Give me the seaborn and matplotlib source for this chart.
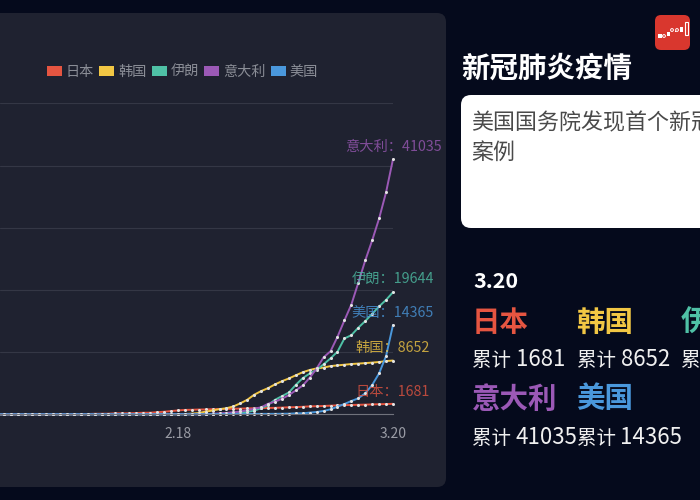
import pandas as pd
import matplotlib
matplotlib.use("Agg")
import matplotlib.pyplot as plt
from matplotlib.patches import Circle, FancyBboxPatch, Patch, Rectangle
import seaborn as sns

# daily totals, 1.23 to 3.20
dates = [f"1.{d}" for d in range(23, 32)] + [f"2.{d}" for d in range(1, 30)] + [f"3.{d}" for d in range(1, 21)]
japan = [1, 2, 2, 4, 4, 7, 7, 11, 15,
         20, 20, 20, 22, 45, 86, 90, 96, 161, 161, 163, 203, 251, 259, 338, 414, 520, 616, 705, 731, 769, 777, 826, 850, 857, 891, 919, 947, 977,
         1001, 1023, 1040, 1083, 1125, 1160, 1210, 1275, 1305, 1340, 1390, 1440, 1480, 1500, 1530, 1560, 1590, 1620, 1650, 1681]
korea = [1, 2, 2, 3, 4, 4, 4, 4, 11,
         12, 15, 15, 16, 19, 23, 24, 24, 25, 27, 28, 28, 28, 28, 28, 29, 30, 31, 51, 104, 204, 433, 602, 833, 977, 1261, 1766, 2337, 3150,
         3736, 4212, 4812, 5328, 5766, 6284, 6767, 7134, 7382, 7513, 7755, 7869, 7979, 8086, 8162, 8236, 8320, 8413, 8565, 8652]
iran = [0, 0, 0, 0, 0, 0, 0, 0, 0,
        0, 0, 0, 0, 0, 0, 0, 0, 0, 0, 0, 0, 0, 0, 0, 0, 0, 0, 2, 5, 18, 28, 43, 61, 95, 139, 245, 388, 593,
        978, 1501, 2336, 2922, 3513, 4747, 5823, 6566, 7161, 8042, 9000, 10075, 12200, 12729, 13938, 14991, 16169, 17361, 18407, 19644]
italy = [0, 0, 0, 0, 0, 0, 0, 0, 2,
         2, 2, 2, 2, 2, 2, 3, 3, 3, 3, 3, 3, 3, 3, 3, 3, 3, 3, 3, 3, 3, 20, 79, 155, 229, 322, 453, 655, 888,
         1128, 1694, 2036, 2502, 3089, 3858, 4636, 5883, 7375, 9172, 10149, 12462, 15113, 17660, 21157, 24747, 27980, 31506, 35713, 41035]
usa = [1, 1, 2, 2, 5, 5, 5, 5, 6,
       7, 8, 8, 11, 11, 11, 11, 11, 11, 12, 12, 13, 13, 14, 15, 15, 15, 15, 15, 15, 15, 15, 35, 35, 53, 53, 57, 60, 66,
       68, 70, 75, 85, 100, 150, 160, 270, 375, 540, 800, 1230, 1660, 2140, 2570, 3380, 4720, 6590, 9380, 14365]

countries = ["日本", "韩国", "伊朗", "意大利", "美国"]
colors = ["#e55541", "#f2c744", "#4fc1a6", "#9b59b6", "#4a98dc"]
series = [japan, korea, iran, italy, usa]
tick_labels = ["2.18", "3.20"]
news = "美国国务院发现首个新冠肺炎确诊\n案例"

df = pd.concat([pd.DataFrame({"day": range(len(dates)), "country": c, "total": v})
                for c, v in zip(countries, series)])

sns.set_theme(style="dark")
plt.rcParams["font.family"] = ["Noto Sans CJK SC", "DejaVu Sans"]

BG = "#050a1c"
PANEL = "#1f2230"
fig = plt.figure(figsize=(7, 5), dpi=100, facecolor=BG)

# overlay in pixel coordinates for the cards and side texts
bg = fig.add_axes([0, 0, 1, 1], zorder=0)
bg.set_xlim(0, 700)
bg.set_ylim(500, 0)
bg.axis("off")
bg.add_patch(FancyBboxPatch((-30, 13), 476, 474, boxstyle="round,pad=0,rounding_size=9", fc=PANEL, ec="none"))
bg.add_patch(FancyBboxPatch((461, 95), 300, 133, boxstyle="round,pad=0,rounding_size=10", fc="white", ec="none"))

# small logo
bg.add_patch(FancyBboxPatch((655, 15), 35, 35, boxstyle="round,pad=0,rounding_size=6", fc="#d9372e", ec="none"))
for lx, ly, lw, lh in [(658, 34, 4, 4), (667, 32, 3, 4), (675, 31, 1, 1), (680, 27, 3, 5)]:
    bg.add_patch(Rectangle((lx, ly), lw, lh, fc="white", ec="none"))
for cx, cy in [(664, 36), (672, 30), (677, 30)]:
    bg.add_patch(Circle((cx, cy), 1.4, fc="none", ec="white", lw=0.7))
bg.add_patch(Rectangle((685, 22), 3, 13, fc="none", ec="white", lw=0.8))

bg.text(461, 68.5, "新冠肺炎疫情", color="white", fontsize=20.5, fontweight="bold", va="center", ha="left")
bg.text(471.5, 138, news, color="#4a4a4a", fontsize=15.8, va="center", ha="left", linespacing=1.42)
bg.text(473, 281.5, "3.20", color="white", fontsize=15.5, fontweight="bold", va="center", ha="left")

# one cell per country, three to a row
for i, (name, col, vals) in enumerate(zip(countries, colors, series)):
    cx = 473 + 104.5 * (i % 3)
    row = 0 if i < 3 else 1
    bg.text(cx - 1, 322.5 + row * 77, name, color=col, fontsize=20.5, fontweight="bold", va="center", ha="left")
    bg.text(cx - 1, 360 + row * 78, "累计", color="#f0f0f0", fontsize=14, va="center", ha="left")
    bg.text(cx + 43, 360 + row * 78, str(vals[-1]), color="#f0f0f0", fontsize=16, va="center", ha="left")

# chart axes span x 0..393 and y 103.5..414.3 in pixels, one extra pixel on top keeps the last gridline
ax = fig.add_axes([0, (500 - 414.3) / 500, 393 / 700, (414.3 - 102.5) / 500], zorder=1)
ax.patch.set_alpha(0)
sns.lineplot(data=df, x="day", y="total", hue="country", hue_order=countries, palette=colors,
             marker="o", markersize=2.2, markerfacecolor="#e4e4e4", markeredgewidth=0,
             linewidth=1.4, legend=False, clip_on=False, ax=ax)
ax.set_xlim(0.37, len(dates) - 1)
ax.set_ylim(0, 50160)
ax.set_yticks(range(0, 50001, 10000))
ax.set_yticklabels([])
ax.set_xticks([dates.index(t) for t in tick_labels])
ax.set_xticklabels(tick_labels, color="#9a9ca5", fontsize=10)
ax.tick_params(axis="both", length=0)
ax.tick_params(axis="x", pad=9)
ax.set_xlabel("")
ax.set_ylabel("")
ax.grid(axis="y", color="#343745", linewidth=0.8)
ax.grid(axis="x", visible=False)
for side in ["top", "right", "left"]:
    ax.spines[side].set_visible(False)
ax.spines["bottom"].set_color("#70727c")
ax.spines["bottom"].set_linewidth(0.8)

# end labels
for name, col, vals in zip(countries, colors, series):
    ax.annotate(f"{name}：{vals[-1]}", xy=(len(dates) - 1, vals[-1]), xytext=(0, 8.8),
                textcoords="offset points", color=col, alpha=0.78, fontsize=10.3,
                ha="center", va="center", annotation_clip=False)

handles = [Patch(fc=c, ec="none", label=n) for n, c in zip(countries, colors)]
ax.legend(handles=handles, loc="center left", bbox_to_anchor=(44 / 700, (500 - 72) / 500),
          bbox_transform=fig.transFigure, ncol=5, frameon=False, fontsize=10.2,
          labelcolor="#8a8d96", handlelength=1.06, handleheight=0.62, handletextpad=0.28,
          columnspacing=0.37, borderpad=0.2, borderaxespad=0)

fig.savefig("out.png", dpi=100, facecolor=BG)
